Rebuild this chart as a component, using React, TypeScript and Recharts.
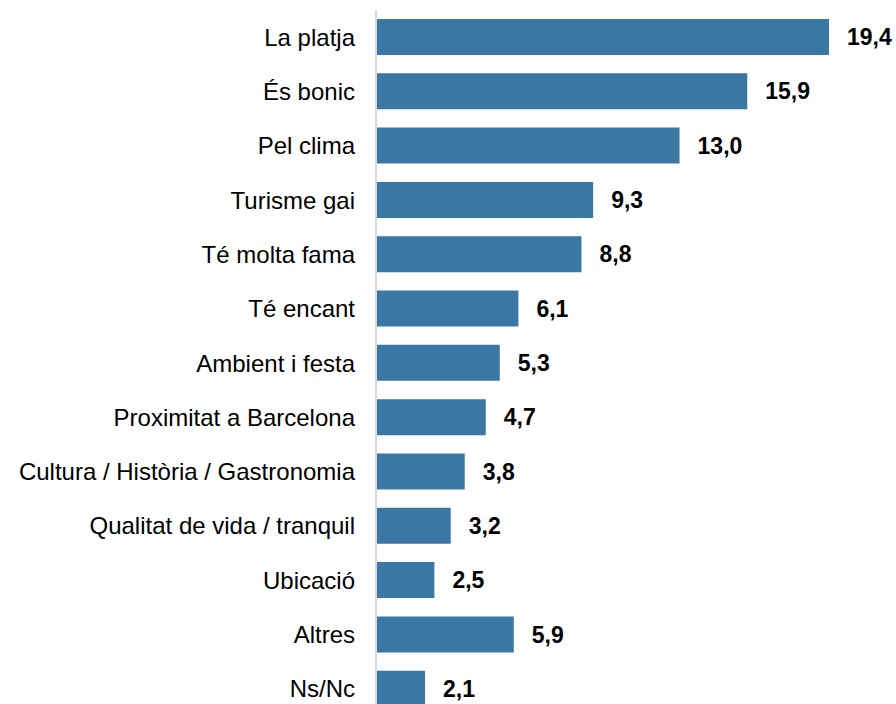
import { Bar, BarChart, LabelList, XAxis, YAxis } from 'recharts';

const categories = [
  'La platja',
  'És bonic',
  'Pel clima',
  'Turisme gai',
  'Té molta fama',
  'Té encant',
  'Ambient i festa',
  'Proximitat a Barcelona',
  'Cultura / Història / Gastronomia',
  'Qualitat de vida / tranquil',
  'Ubicació',
  'Altres',
  'Ns/Nc',
];

const values = [19.4, 15.9, 13.0, 9.3, 8.8, 6.1, 5.3, 4.7, 3.8, 3.2, 2.5, 5.9, 2.1];

const data = categories.map((name, i) => ({ name, value: values[i] }));

const fmt = (v: unknown) => Number(v).toFixed(1).replace('.', ',');

const font = '"Liberation Sans", Arial, sans-serif';

export default function App() {
  return (
    <div
      style={{
        position: 'absolute',
        left: 0,
        top: 0,
        width: 896,
        height: 704,
        overflow: 'hidden',
        background: '#fff',
        fontFamily: font,
      }}
    >
      <BarChart
        width={896}
        height={716}
        data={data}
        layout="vertical"
        margin={{ top: 10, right: 53, left: 0, bottom: 0 }}
      >
        <XAxis type="number" domain={[0, 20]} hide />
        <YAxis
          type="category"
          dataKey="name"
          width={376}
          tickLine={false}
          tickSize={0}
          tickMargin={21}
          axisLine={{ stroke: '#D9D9D9', strokeWidth: 2 }}
          tick={{ fontSize: 24, fill: '#000', fontFamily: font }}
          interval={0}
        />
        <Bar dataKey="value" fill="#3A77A2" barSize={36} isAnimationActive={false}>
          <LabelList
            dataKey="value"
            position="right"
            offset={18}
            formatter={fmt}
            style={{ fontSize: 23, fontWeight: 'bold', fill: '#000', fontFamily: font }}
          />
        </Bar>
      </BarChart>
    </div>
  );
}
